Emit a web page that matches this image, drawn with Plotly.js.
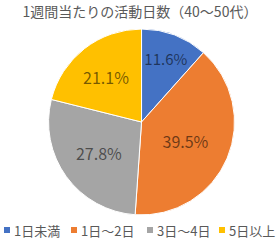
<!DOCTYPE html>
<html><head><meta charset="utf-8">
<script src="https://cdn.plot.ly/plotly-3.0.1.min.js"></script>
<style>html,body{margin:0;padding:0;background:#fff}#c{width:280px;height:244px}</style>
</head><body><div id="c"></div>
<script>
const categories = ['1日未満', '1日～2日', '3日～4日', '5日以上'];
const values = [11.6, 39.5, 27.8, 21.1];
const colors = ['#4472C4', '#ED7D31', '#A5A5A5', '#FFC000'];
const titleText = '1週間当たりの活動日数（40～50代）';
const font = '"Noto Sans CJK JP", "Noto Sans", sans-serif';

// custom legend layout (pixel positions)
const W = 280, H = 244;
const legendX = [4, 71, 147, 219];
const legendY = 230;
const shapes = [], annotations = [];
categories.forEach((c, i) => {
  shapes.push({type: 'rect', xref: 'paper', yref: 'paper',
    x0: legendX[i] / W, x1: (legendX[i] + 6) / W,
    y0: (H - legendY - 3) / H, y1: (H - legendY + 3) / H,
    fillcolor: colors[i], line: {width: 0}});
  annotations.push({xref: 'paper', yref: 'paper', x: (legendX[i] + 8) / W, y: (H - legendY) / H,
    xanchor: 'left', yanchor: 'middle', showarrow: false, text: c,
    font: {family: font, size: 13, color: '#595959'}});
});

Plotly.newPlot('c', [{
  type: 'pie',
  labels: categories,
  values: values,
  sort: false,
  direction: 'clockwise',
  rotation: 0,
  marker: {colors: colors, line: {color: '#ffffff', width: 1}},
  texttemplate: '%{value:.1f}%',
  textposition: 'inside',
  insidetextorientation: 'horizontal',
  textfont: {family: font, size: 16, color: 'rgba(0,0,0,0.55)'},
  hoverinfo: 'none',
  domain: {x: [0.164, 0.847], y: [0.119, 0.881]}
}], {
  width: W, height: H,
  margin: {l: 0, r: 0, t: 0, b: 0},
  paper_bgcolor: '#ffffff',
  title: {text: titleText, font: {family: font, size: 14, color: '#595959'}, x: 0.5, xanchor: 'center', y: 0.95, yanchor: 'middle'},
  showlegend: false,
  shapes: shapes,
  annotations: annotations,
  font: {family: font}
}, {staticPlot: true});
</script></body></html>
